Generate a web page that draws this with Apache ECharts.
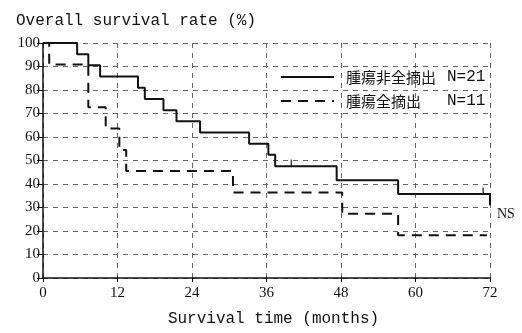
<!DOCTYPE html>
<html>
<head>
<meta charset="utf-8">
<script src="https://cdn.jsdelivr.net/npm/echarts@6/dist/echarts.min.js"></script>
<style>
  html, body { margin: 0; padding: 0; background: #fff; }
  #main { width: 522px; height: 333px; }
</style>
</head>
<body>
<div id="main"></div>
<script>
// 腫瘍非全摘出 (solid)
var timeA = [0, 5.5, 7.3, 9.2, 15.3, 16.4, 19.4, 21.5, 25.3, 33.2, 36.3, 37.4, 47.3, 57.2, 72];
var rateA = [100, 95.2, 90.5, 85.7, 81.0, 76.2, 71.4, 66.7, 61.9, 57.1, 52.4, 47.6, 41.6, 35.7, 31.0];
var censorTimeA = [40, 70.9];
var censorRateA = [47.6, 35.7];
// 腫瘍全摘出 (dashed)
var timeB = [0, 1.0, 7.3, 10.1, 12.3, 13.4, 30.6, 48.2, 57.2, 71.5];
var rateB = [100, 90.9, 72.7, 63.6, 54.5, 45.5, 36.4, 27.3, 18.2, 18.2];

var names = ['腫瘍非全摘出', '腫瘍全摘出'];
var counts = { '腫瘍非全摘出': 21, '腫瘍全摘出': 11 };

function pairs(xs, ys) {
    return xs.map(function (x, i) { return [x, ys[i]]; });
}

var chart = echarts.init(document.getElementById('main'));

var gridLine = {
    show: true,
    lineStyle: { color: '#666', width: 1, type: [5, 5] }
};

var option = {
    backgroundColor: '#fff',
    animation: false,
    title: {
        text: 'Overall survival rate (%)',
        left: 11,
        top: 8,
        textStyle: {
            fontFamily: 'Liberation Mono',
            fontSize: 16,
            fontWeight: 'normal',
            color: '#111'
        }
    },
    legend: {
        orient: 'vertical',
        left: 275,
        top: 64,
        itemWidth: 53,
        itemHeight: 14,
        itemGap: 8,
        data: names,
        itemStyle: { opacity: 0 },
        lineStyle: { opacity: 1 },
        formatter: function (name) {
            return '{a|' + name + '}{b|N=' + counts[name] + '}';
        },
        textStyle: {
            color: '#111',
            rich: {
                a: {
                    fontFamily: 'Noto Sans CJK JP',
                    fontSize: 15,
                    width: 101,
                    padding: [0, 0, 0, 7],
                    color: '#111'
                },
                b: {
                    fontFamily: 'Liberation Mono',
                    fontSize: 16,
                    color: '#111'
                }
            }
        }
    },
    grid: {
        left: 43,
        right: 32,
        top: 43,
        bottom: 55
    },
    xAxis: {
        type: 'value',
        min: 0,
        max: 72,
        interval: 12,
        name: 'Survival time (months)',
        nameLocation: 'middle',
        nameGap: 33,
        nameTextStyle: {
            fontFamily: 'Liberation Mono',
            fontSize: 16,
            color: '#111',
            padding: [0, 0, 0, 14]
        },
        axisLine: { show: true, lineStyle: { color: '#111', width: 1.5 } },
        axisTick: { show: true, length: 4, lineStyle: { color: '#111' } },
        axisLabel: {
            fontFamily: 'Liberation Serif',
            fontSize: 15,
            color: '#111',
            margin: 8
        },
        splitLine: gridLine
    },
    yAxis: {
        type: 'value',
        min: 0,
        max: 100,
        interval: 10,
        axisLine: { show: true, lineStyle: { color: '#111', width: 1.5 } },
        axisTick: { show: true, length: 6, lineStyle: { color: '#111' } },
        axisLabel: {
            fontFamily: 'Liberation Serif',
            fontSize: 15,
            color: '#111',
            margin: 3
        },
        splitLine: gridLine
    },
    series: [
        {
            name: names[0],
            type: 'line',
            step: 'end',
            symbol: 'none',
            data: pairs(timeA, rateA),
            lineStyle: { color: '#111', width: 2 },
            itemStyle: { color: '#111' },
            z: 5
        },
        {
            name: names[1],
            type: 'line',
            step: 'end',
            symbol: 'none',
            data: pairs(timeB, rateB),
            lineStyle: { color: '#111', width: 2, type: [10, 7] },
            itemStyle: { color: '#111' },
            z: 4
        },
        {
            name: 'censor',
            type: 'scatter',
            symbol: 'rect',
            symbolSize: [1.5, 7],
            symbolOffset: [0, -3],
            data: pairs(censorTimeA, censorRateA),
            itemStyle: { color: '#111' },
            z: 6
        }
    ],
    graphic: [
        {
            type: 'text',
            left: 497,
            top: 207,
            style: {
                text: 'NS',
                fontFamily: 'Liberation Serif',
                fontSize: 14,
                fill: '#111'
            }
        }
    ]
};

chart.setOption(option);
window.addEventListener('resize', function () {
    chart.resize();
});
</script>
</body>
</html>
